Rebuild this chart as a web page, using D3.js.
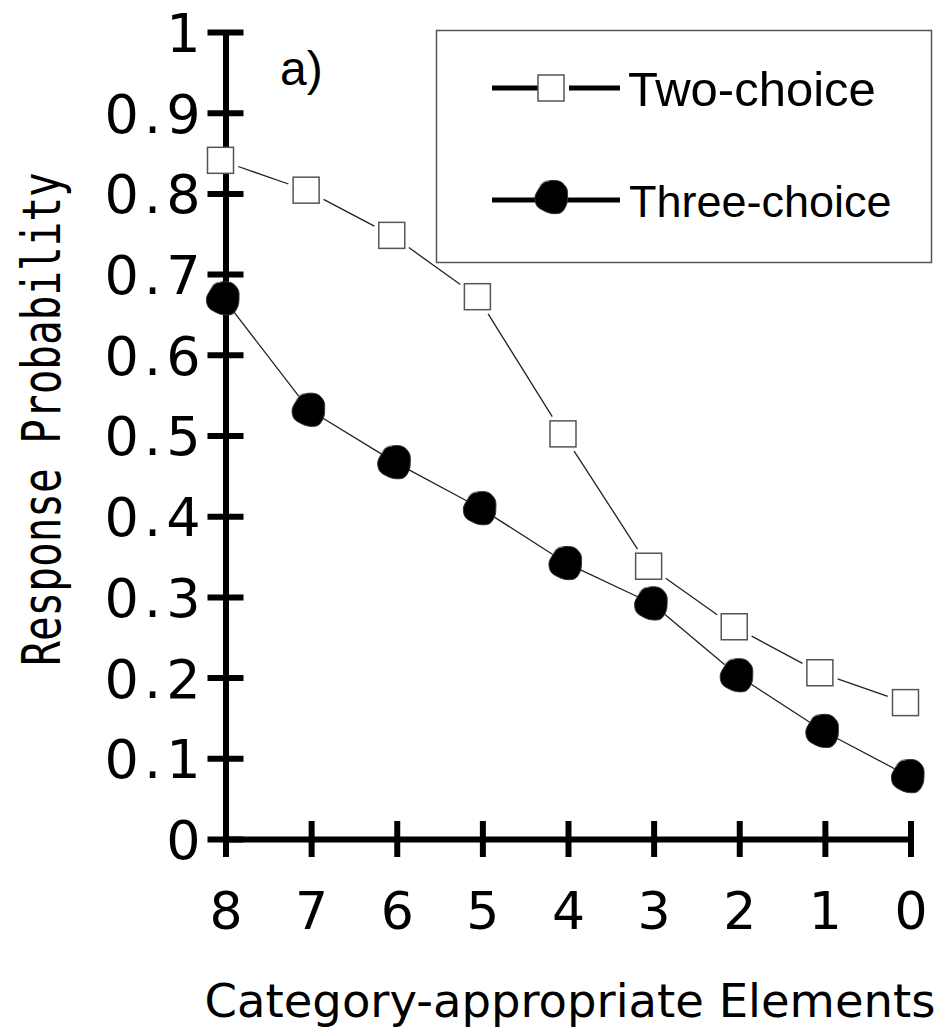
<!DOCTYPE html>
<html>
<head>
<meta charset="utf-8">
<script src="https://cdn.jsdelivr.net/npm/d3@7"></script>
<style>
  body { margin: 0; background: #fff; }
  svg { display: block; }
</style>
</head>
<body>
<div id="chart"></div>
<script>
// data
var categories = [8, 7, 6, 5, 4, 3, 2, 1, 0];
var twoChoice = [0.841, 0.804, 0.748, 0.672, 0.502, 0.338, 0.263, 0.206, 0.169];
var threeChoice = [0.670, 0.532, 0.467, 0.410, 0.342, 0.292, 0.203, 0.134, 0.078];
var yTickValues = [0, 0.1, 0.2, 0.3, 0.4, 0.5, 0.6, 0.7, 0.8, 0.9, 1];
var yTickLabels = ["0", "0.1", "0.2", "0.3", "0.4", "0.5", "0.6", "0.7", "0.8", "0.9", "1"];
var seriesNames = ["Two-choice", "Three-choice"];

var width = 934, height = 1030;

var x = d3.scaleLinear().domain([8, 0]).range([225.5, 910.5]);
var y = d3.scaleLinear().domain([0, 1]).range([839, 32]);

var svg = d3.select("#chart").append("svg")
    .attr("width", width)
    .attr("height", height);

// blob shape for the filled markers (hand drawn look)
var blobRadii = [16.5, 17.5, 17, 15.5, 16.5, 18, 16.5, 16, 17.5, 17, 15.5, 16.5];
var blob = d3.lineRadial()
    .angle(function(d, i) { return i / blobRadii.length * 2 * Math.PI; })
    .radius(function(d) { return d; })
    .curve(d3.curveCardinalClosed);

// axes
var yAxis = svg.append("g")
    .attr("transform", "translate(" + x(8) + ",0)")
    .call(d3.axisLeft(y).tickValues(yTickValues).tickFormat(function(d, i) { return yTickLabels[i]; }).tickSizeOuter(0));
yAxis.select(".domain").attr("stroke", "#000").attr("stroke-width", 6);
yAxis.selectAll(".tick line").attr("x1", -18).attr("x2", 18).attr("stroke", "#000").attr("stroke-width", 6);
yAxis.selectAll(".tick text")
    .attr("x", -20)
    .attr("dy", "0.36em")
    .style("font-family", "DejaVu Sans")
    .style("font-size", "54px")
    .style("letter-spacing", "5px")
    .attr("fill", "#000");

var xAxis = svg.append("g")
    .attr("transform", "translate(0," + y(0) + ")")
    .call(d3.axisBottom(x).tickValues(categories).tickFormat(d3.format("d")).tickSizeOuter(0));
xAxis.select(".domain").attr("stroke", "#000").attr("stroke-width", 6);
xAxis.selectAll(".tick line").attr("y1", -18).attr("y2", 18).attr("stroke", "#000").attr("stroke-width", 6);
xAxis.selectAll(".tick text")
    .attr("y", 90)
    .attr("dy", 0)
    .style("font-family", "DejaVu Sans")
    .style("font-size", "52px")
    .attr("fill", "#000");

// axis titles
svg.append("text")
    .attr("transform", "translate(60,419) rotate(-90) scale(1,1.3)")
    .attr("text-anchor", "middle")
    .style("font-family", "DejaVu Sans Mono")
    .style("font-size", "41px")
    .text("Response Probability");

svg.append("text")
    .attr("x", 570)
    .attr("y", 1017)
    .attr("text-anchor", "middle")
    .style("font-family", "DejaVu Sans")
    .style("font-size", "46.5px")
    .text("Category-appropriate Elements");

svg.append("text")
    .attr("x", 280)
    .attr("y", 85)
    .style("font-family", "Liberation Sans")
    .style("font-size", "48px")
    .text("a)");

// connecting segments, trimmed at the markers
function segments(values, trim) {
  var pts = values.map(function(v, i) { return [x(categories[i]), y(v)]; });
  var segs = [];
  for (var i = 0; i < pts.length - 1; i++) {
    var dx = pts[i + 1][0] - pts[i][0], dy = pts[i + 1][1] - pts[i][1];
    var len = Math.sqrt(dx * dx + dy * dy), ux = dx / len, uy = dy / len;
    var t = trim(ux, uy);
    segs.push([pts[i][0] + ux * t, pts[i][1] + uy * t, pts[i + 1][0] - ux * t, pts[i + 1][1] - uy * t]);
  }
  return segs;
}

svg.append("g").selectAll("line")
    .data(segments(twoChoice, function(ux, uy) { return 13 / Math.max(Math.abs(ux), Math.abs(uy)) + 5; }))
    .join("line")
    .attr("x1", function(d) { return d[0] - 5; })
    .attr("y1", function(d) { return d[1]; })
    .attr("x2", function(d) { return d[2] - 5; })
    .attr("y2", function(d) { return d[3]; })
    .attr("stroke", "#222")
    .attr("stroke-width", 1.3);

svg.append("g").selectAll("line")
    .data(segments(threeChoice, function() { return 12; }))
    .join("line")
    .attr("x1", function(d) { return d[0] - 2; })
    .attr("y1", function(d) { return d[1]; })
    .attr("x2", function(d) { return d[2] - 2; })
    .attr("y2", function(d) { return d[3]; })
    .attr("stroke", "#222")
    .attr("stroke-width", 1.3);

// markers
svg.append("g").selectAll("rect")
    .data(twoChoice)
    .join("rect")
    .attr("x", function(d, i) { return x(categories[i]) - 5 - 13; })
    .attr("y", function(d) { return y(d) - 13; })
    .attr("width", 26)
    .attr("height", 26)
    .attr("fill", "#fff")
    .attr("stroke", "#555")
    .attr("stroke-width", 1.5);

var blobs = svg.append("g").selectAll("g")
    .data(threeChoice)
    .join("g")
    .attr("transform", function(d, i) { return "translate(" + (x(categories[i]) - 2) + "," + y(d) + ")"; });
blobs.append("path")
    .attr("d", blob(blobRadii))
    .attr("fill", "#000")
    .attr("stroke", "#333")
    .attr("stroke-width", 1);
blobs.append("path")
    .attr("d", "M-13,-9 Q-10,-17 -3,-16")
    .attr("fill", "none")
    .attr("stroke", "#999")
    .attr("stroke-width", 1);

// legend
var legend = svg.append("g");
legend.append("rect")
    .attr("x", 436.5)
    .attr("y", 30.5)
    .attr("width", 495)
    .attr("height", 232)
    .attr("fill", "#fff")
    .attr("stroke", "#555")
    .attr("stroke-width", 1.5);

// two-choice entry
legend.append("line").attr("x1", 492).attr("x2", 538).attr("y1", 88).attr("y2", 88)
    .attr("stroke", "#000").attr("stroke-width", 5);
legend.append("line").attr("x1", 569).attr("x2", 620).attr("y1", 88).attr("y2", 88)
    .attr("stroke", "#000").attr("stroke-width", 5);
legend.append("rect").attr("x", 538).attr("y", 75).attr("width", 26).attr("height", 26)
    .attr("fill", "#fff").attr("stroke", "#555").attr("stroke-width", 1.5);
legend.append("text").attr("x", 628).attr("y", 106)
    .style("font-family", "Liberation Sans").style("font-size", "49px")
    .text(seriesNames[0]);

// three-choice entry
legend.append("line").attr("x1", 492).attr("x2", 620).attr("y1", 200).attr("y2", 200)
    .attr("stroke", "#000").attr("stroke-width", 5);
var lb = legend.append("g").attr("transform", "translate(552,197)");
lb.append("path").attr("d", blob(blobRadii)).attr("fill", "#000").attr("stroke", "#333").attr("stroke-width", 1);
lb.append("path").attr("d", "M-13,-9 Q-10,-17 -3,-16").attr("fill", "none").attr("stroke", "#999").attr("stroke-width", 1);
legend.append("text").attr("x", 629).attr("y", 217)
    .style("font-family", "Liberation Sans").style("font-size", "45px")
    .text(seriesNames[1]);
</script>
</body>
</html>
